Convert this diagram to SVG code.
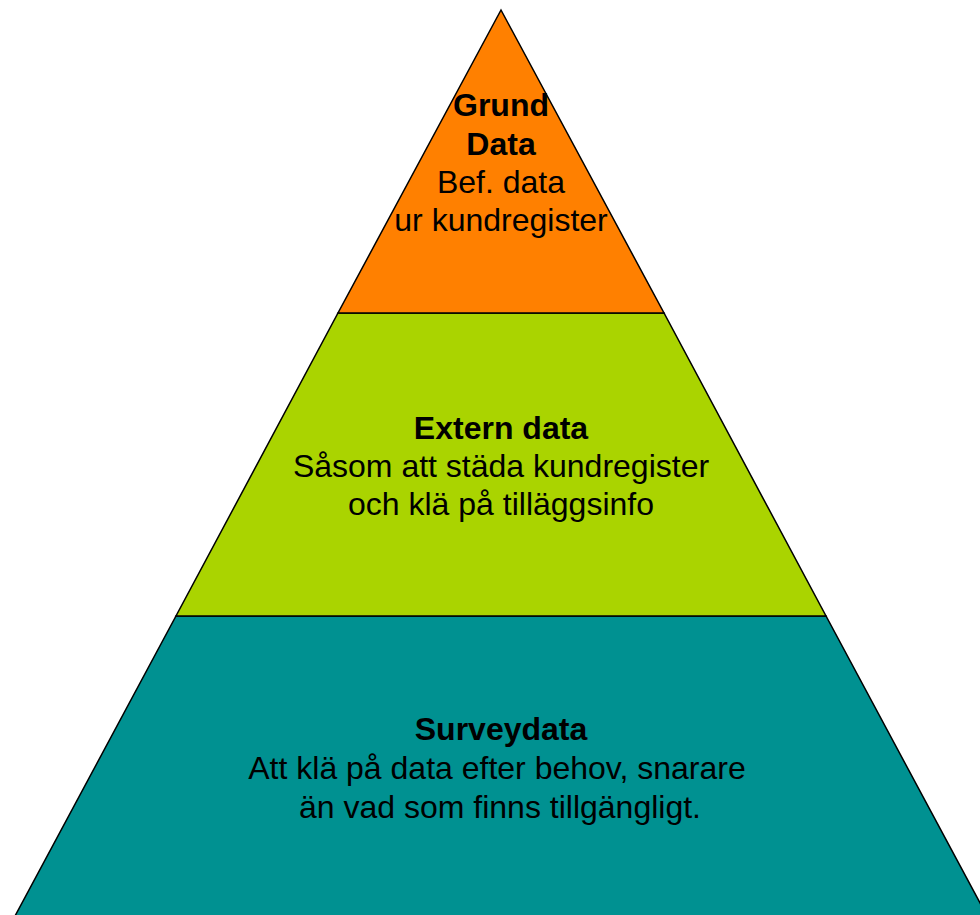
<svg xmlns="http://www.w3.org/2000/svg" width="980" height="915" viewBox="0 0 980 915">
<style>
.layer{stroke:#000;stroke-width:1.5;stroke-linejoin:miter}
.t{font-family:"Liberation Sans",Arial,sans-serif;font-size:32px;fill:#000;text-anchor:middle}
.b{font-weight:bold}
</style>
<rect width="980" height="915" fill="#fff"/>
<g id="bottom">
<polygon class="layer" fill="#009191" points="176,616 826,616 987,916 15,916"/>
<text class="t b" x="501" y="740">Surveydata</text>
<text class="t" x="497" y="779">Att klä på data efter behov, snarare</text>
<text class="t" x="500" y="818">än vad som finns tillgängligt.</text>
</g>
<g id="middle">
<polygon class="layer" fill="#AAD400" points="338,313 664,313 826,616 176,616"/>
<text class="t b" x="501" y="439">Extern data</text>
<text class="t" x="501" y="477">Såsom att städa kundregister</text>
<text class="t" x="501" y="515">och klä på tilläggsinfo</text>
</g>
<g id="top">
<polygon class="layer" fill="#FF8000" points="501,10 664,313 338,313"/>
<text class="t b" x="501" y="116">Grund</text>
<text class="t b" x="501" y="155">Data</text>
<text class="t" x="501" y="193">Bef. data</text>
<text class="t" x="501" y="231">ur kundregister</text>
</g>
</svg>
